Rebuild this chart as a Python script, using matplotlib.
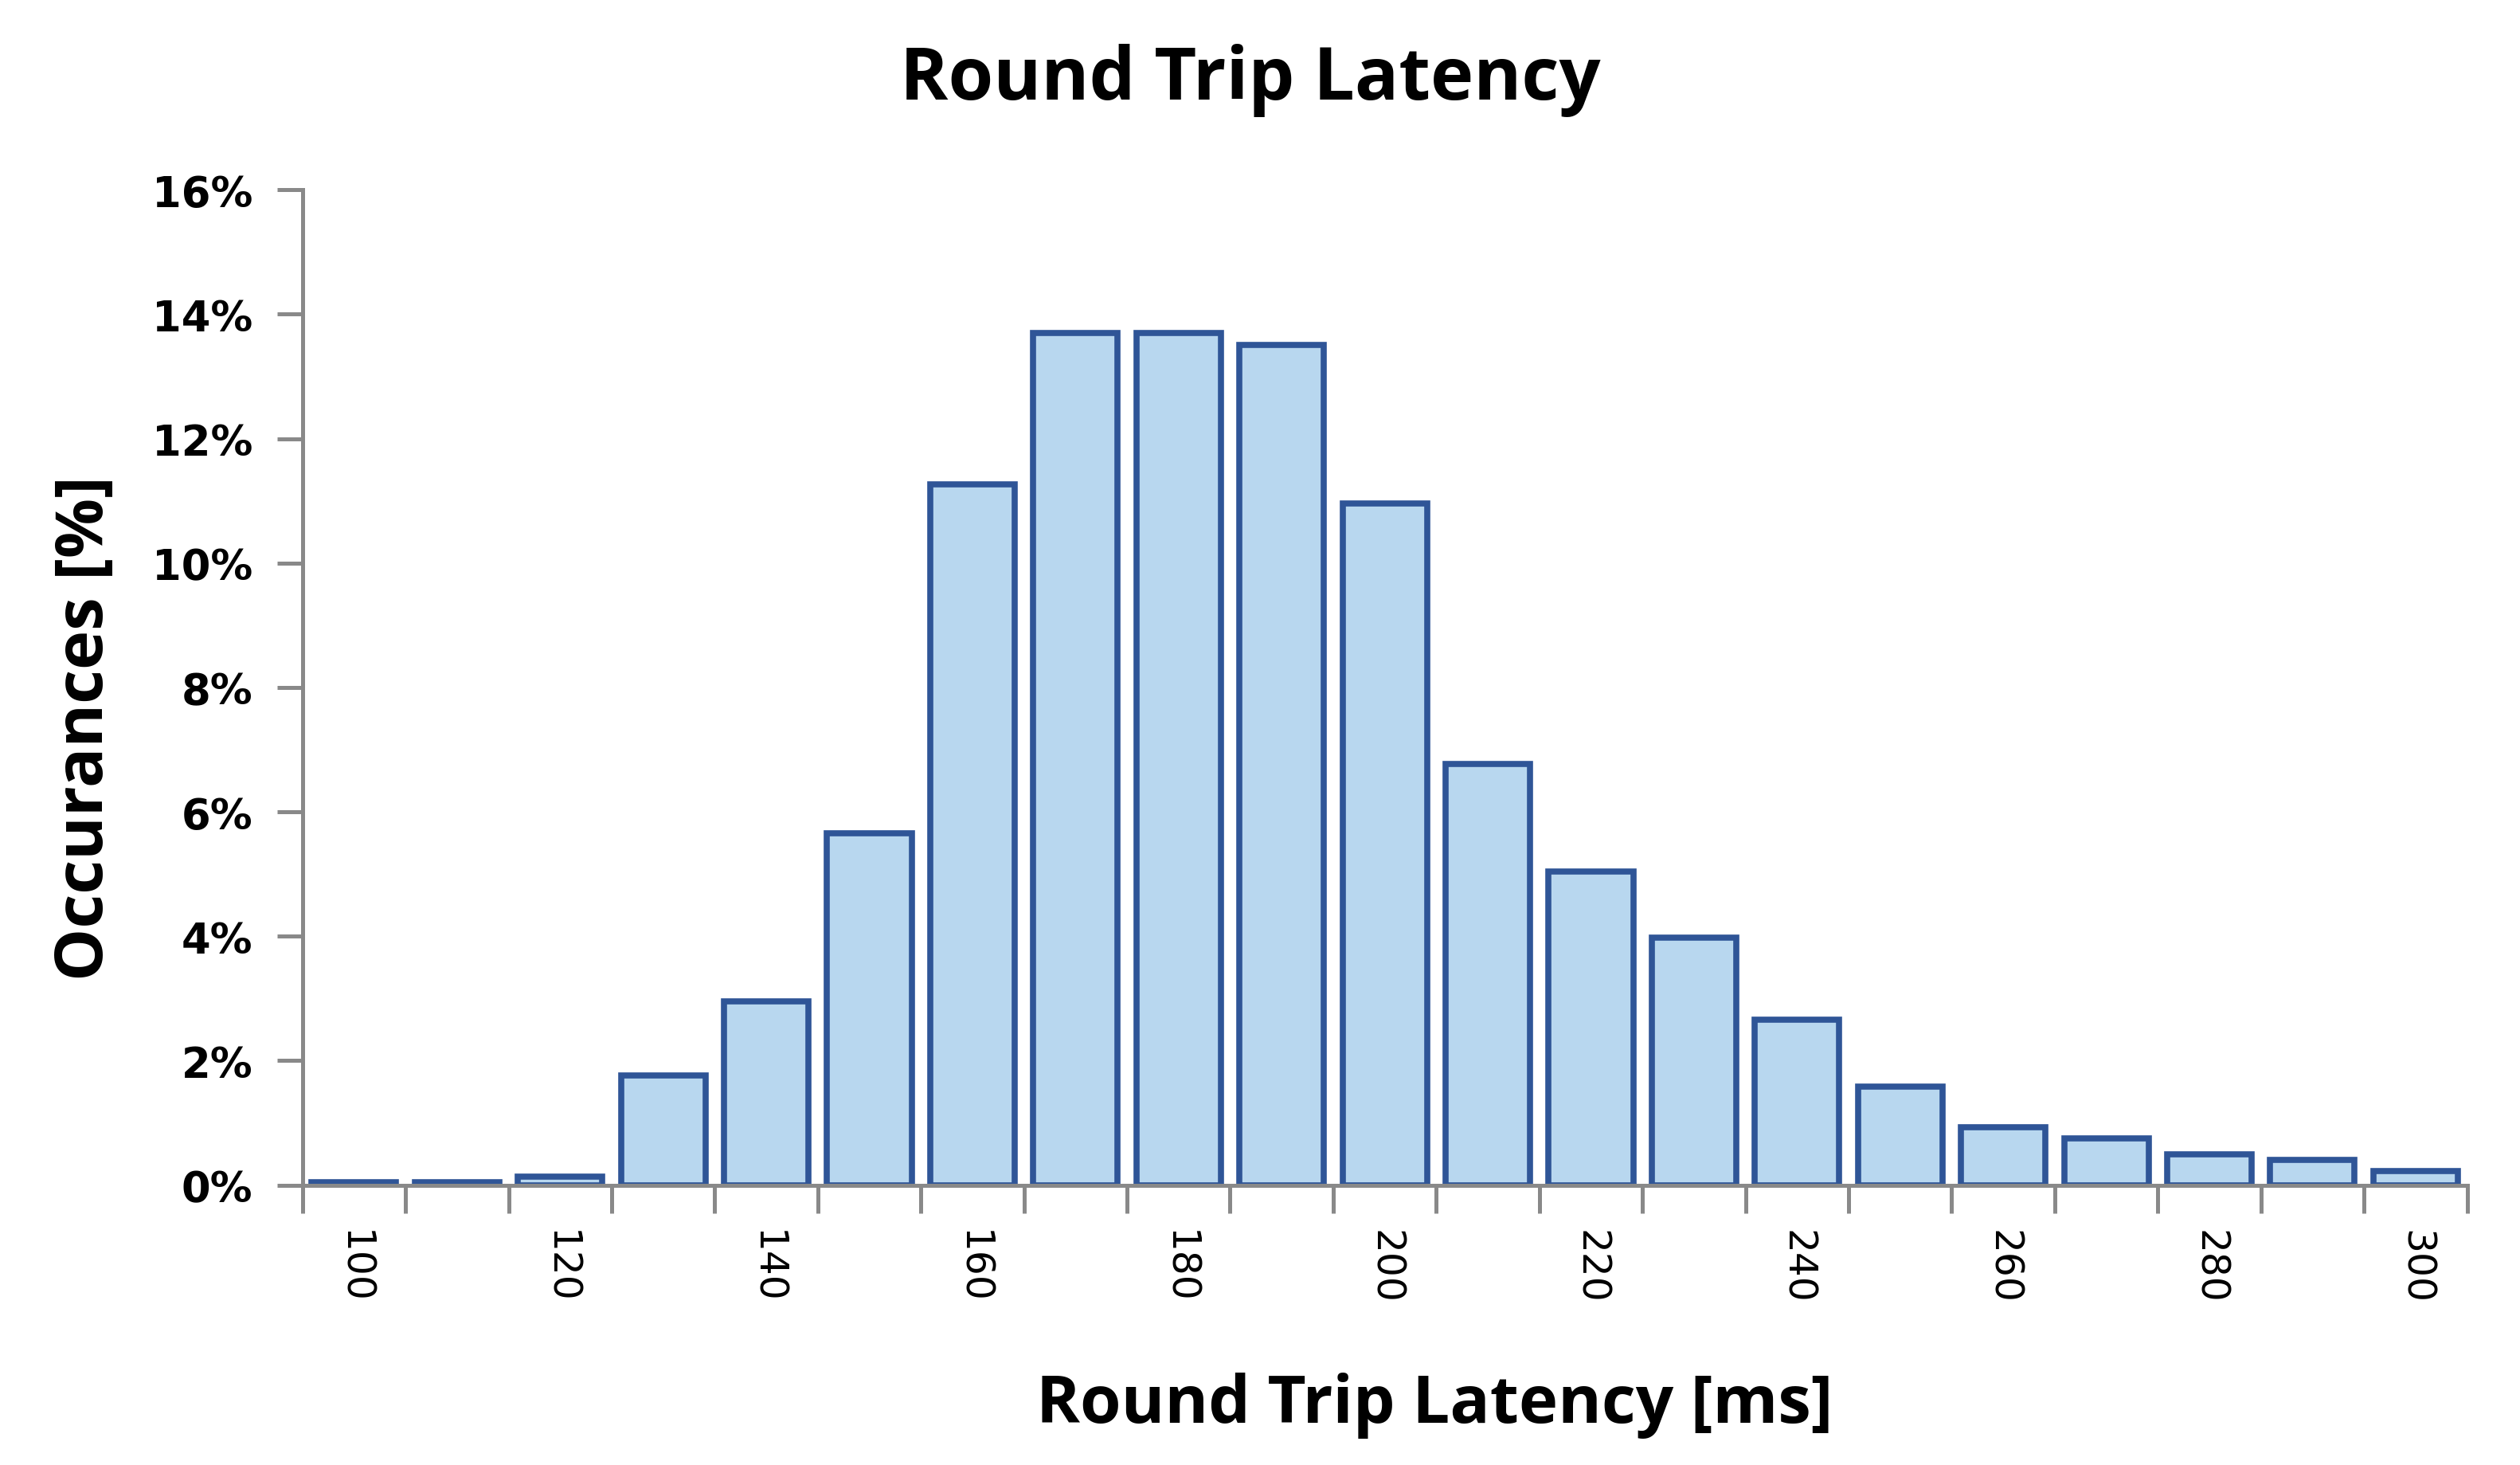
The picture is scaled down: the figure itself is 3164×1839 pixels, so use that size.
import numpy as np
import matplotlib
matplotlib.use("Agg")
import matplotlib.pyplot as plt
from matplotlib.ticker import FuncFormatter

# latency bins [ms] and share of occurrences [%]
latency = [100, 110, 120, 130, 140, 150, 160, 170, 180, 190, 200,
           210, 220, 230, 240, 250, 260, 270, 280, 290, 300]
occurrences = [0.05, 0.05, 0.13, 1.76, 2.95, 5.66, 11.27, 13.70, 13.70, 13.51, 10.96,
               6.77, 5.04, 3.98, 2.66, 1.58, 0.93, 0.75, 0.49, 0.41, 0.23]

gray = "#898989"

fig = plt.figure(figsize=(31.64, 18.4), dpi=100)
ax = fig.add_axes([0.12, 0.191, 0.859, 0.679])

x = np.arange(len(latency))
ax.bar(x, occurrences, width=0.82, color="#B8D7EF", edgecolor="#2F5597", linewidth=5.5)

ax.set_xlim(-0.5, len(latency) - 0.5)
ax.set_ylim(0, 16)
ax.set_yticks(np.arange(0, 17, 2))
ax.yaxis.set_major_formatter(FuncFormatter(lambda v, p: "%d%%" % v))

# ticks sit between categories, labels on every other bin
ax.set_xticks(np.arange(-0.5, len(latency) + 0.5, 1))
ax.set_xticklabels([])
ax.set_xticks(x[::2], minor=True)
ax.set_xticklabels([str(v) for v in latency[::2]], minor=True, rotation=-90,
                   fontsize=35, family="DejaVu Sans")
ax.tick_params(axis="x", which="minor", length=0, pad=40)
ax.tick_params(axis="x", which="major", length=25, width=3.6, color=gray, direction="out")
ax.tick_params(axis="y", length=23, width=3.6, color=gray, direction="out", pad=22)
for lab in ax.get_yticklabels():
    lab.set_fontsize(38)
    lab.set_fontweight("bold")

for s in ["top", "right"]:
    ax.spines[s].set_visible(False)
for s in ["left", "bottom"]:
    ax.spines[s].set_color(gray)
    ax.spines[s].set_linewidth(3.6)

fig.suptitle("Round Trip Latency", x=0.496, y=0.97, fontsize=66, fontweight="bold",
             family="Open Sans", va="top")
ax.set_xlabel("Round Trip Latency [ms]", x=0.523, fontsize=60, fontweight="bold",
              family="Open Sans", labelpad=62)
ax.set_ylabel("Occurances [%]", y=0.46, fontsize=60, fontweight="bold",
              family="Open Sans", labelpad=30)

fig.savefig("out.png", dpi=100, facecolor="white")
